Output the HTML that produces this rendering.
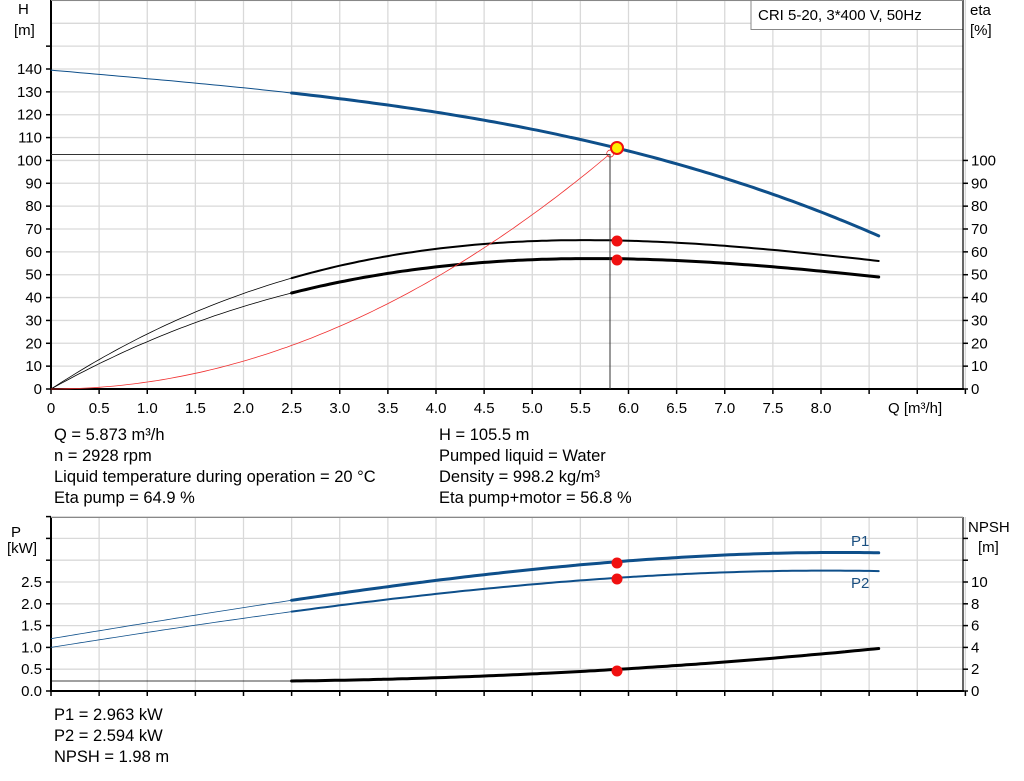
<!DOCTYPE html>
<html><head><meta charset="utf-8"><style>
html,body{margin:0;padding:0;background:#fff;}
svg{display:block;font-family:"Liberation Sans",Arial,sans-serif;}
</style></head><body>
<svg id="s" width="1024" height="781" viewBox="0 0 1024 781">
<g id="grid" stroke="#d9d9d9" stroke-width="1.3"></g>
<g font-size="15" fill="#000">
<text x="18" y="14">H</text><text x="14" y="35">[m]</text>
<text x="970" y="15">eta</text><text x="970" y="35">[%]</text>
<text x="11" y="537">P</text><text x="7" y="553">[kW]</text>
<text x="968" y="532">NPSH</text><text x="978" y="552">[m]</text>
<text x="888" y="413">Q [m³/h]</text>
<text x="851" y="546" fill="#1a4f80">P1</text>
<text x="851" y="588" fill="#1a4f80">P2</text>
</g>
<g font-size="16.5" fill="#000">
<text x="54" y="440">Q = 5.873 m³/h</text>
<text x="54" y="461">n = 2928 rpm</text>
<text x="54" y="482">Liquid temperature during operation = 20 °C</text>
<text x="54" y="503">Eta pump = 64.9 %</text>
<text x="439" y="440">H = 105.5 m</text>
<text x="439" y="461">Pumped liquid = Water</text>
<text x="439" y="482">Density = 998.2 kg/m³</text>
<text x="439" y="503">Eta pump+motor = 56.8 %</text>
<text x="54" y="720">P1 = 2.963 kW</text>
<text x="54" y="741">P2 = 2.594 kW</text>
<text x="54" y="762">NPSH = 1.98 m</text>
</g>
<rect x="751" y="0.5" width="212" height="29" fill="#fff" stroke="#888"/>
<text x="758" y="20" font-size="15">CRI 5-20, 3*400 V, 50Hz</text>
<g id="lbl" font-size="15"></g>
<g id="curves" fill="none"></g>
</svg>
<script>
var NS="http://www.w3.org/2000/svg";
function el(p,t,a,txt){var e=document.createElementNS(NS,t);for(var k in a)e.setAttribute(k,a[k]);if(txt!=null)e.textContent=txt;document.getElementById(p).appendChild(e);return e;}
function X(q){return 51+q*96.25;}
function Y(h){return 389-h*2.2857;}
function Yp(p){return 691-p*43.6;}
function Yn(n){return 691-n*10.9;}
for(var i=1;i<=19;i++){el('grid','line',{x1:X(i*0.5),y1:0,x2:X(i*0.5),y2:389});}
for(var h=10;h<=170;h+=10){el('grid','line',{x1:51,y1:Y(h),x2:963,y2:Y(h)});}
for(var i=1;i<=19;i++){el('grid','line',{x1:X(i*0.5),y1:517,x2:X(i*0.5),y2:691});}
for(var p=0.5;p<=4.01;p+=0.5){el('grid','line',{x1:51,y1:Yp(p),x2:963,y2:Yp(p)});}
var ax={stroke:'#000','stroke-width':2};
el('curves','line',Object.assign({x1:51,y1:0,x2:51,y2:390},ax));
el('curves','line',Object.assign({x1:50,y1:389,x2:964,y2:389},ax));
el('curves','line',Object.assign({x1:963,y1:0,x2:963,y2:390},{stroke:'#000','stroke-width':1.2}));
el('curves','line',{x1:51,y1:0.5,x2:963,y2:0.5,stroke:'#888','stroke-width':1});
el('curves','line',Object.assign({x1:51,y1:517,x2:51,y2:692},ax));
el('curves','line',Object.assign({x1:50,y1:691,x2:964,y2:691},ax));
el('curves','line',Object.assign({x1:963,y1:517,x2:963,y2:692},{stroke:'#000','stroke-width':1.2}));
el('curves','line',{x1:51,y1:517.5,x2:963,y2:517.5,stroke:'#888','stroke-width':1});
for(var i=0;i<=19;i++){var x=X(i*0.5);el('curves','line',{x1:x,y1:389,x2:x,y2:394,stroke:'#000','stroke-width':1.5});
 if(i<=16){var t=(i==0)?'0':(i*0.5).toFixed(1);el('lbl','text',{x:x,y:413,'text-anchor':'middle'},t);}
 el('curves','line',{x1:x,y1:691,x2:x,y2:696,stroke:'#000','stroke-width':1.5});}
for(var h=0;h<=150;h+=10){el('curves','line',{x1:46,y1:Y(h),x2:51,y2:Y(h),stroke:'#000','stroke-width':1.5});
 if(h<=140)el('lbl','text',{x:42,y:Y(h)+5,'text-anchor':'end'},''+h);}
for(var h=0;h<=100;h+=10){el('curves','line',{x1:963,y1:Y(h),x2:968,y2:Y(h),stroke:'#000','stroke-width':1.5});
 el('lbl','text',{x:971,y:Y(h)+5},''+h);}
for(var k=0;k<=8;k++){var p=k*0.5;el('curves','line',{x1:46,y1:Yp(p),x2:51,y2:Yp(p),stroke:'#000','stroke-width':1.5});
 if(k<=5)el('lbl','text',{x:42,y:Yp(p)+5,'text-anchor':'end'},p.toFixed(1));}
for(var n=0;n<=14;n+=2){el('curves','line',{x1:963,y1:Yn(n),x2:968,y2:Yn(n),stroke:'#000','stroke-width':1.5});
 if(n<=10)el('lbl','text',{x:971,y:Yn(n)+5},''+n);}
function lag(pts){return function(q){var s=0;for(var i=0;i<pts.length;i++){var l=pts[i][1];for(var j=0;j<pts.length;j++)if(j!=i)l*=(q-pts[j][0])/(pts[i][0]-pts[j][0]);s+=l;}return s;};}
function path(f,yf,a,b,col,w){var d='';for(var q=a;q<=b+1e-9;q+=0.05){d+=(d?'L':'M')+X(q).toFixed(1)+' '+yf(f(q)).toFixed(1);}el('curves','path',{d:d,stroke:col,'stroke-width':w,'stroke-linecap':'round'});}
var B='#0e4f8a';
var H=lag([[0,139.5],[2.5,129.5],[5.87,105.5],[8.6,67]]);
path(H,Y,0,2.5,B,1);path(H,Y,2.5,8.6,B,3);
var E1=lag([[0,0],[2.5,48.5],[5.87,65],[8.6,56]]);
path(E1,Y,0,2.5,'#000',0.8);path(E1,Y,2.5,8.6,'#000',2);
var E2=lag([[0,0],[2.5,42],[5.87,57],[8.6,49]]);
path(E2,Y,0,2.5,'#000',0.8);path(E2,Y,2.5,8.6,'#000',3);
path(function(q){return 3.05*q*q;},Y,0,5.8,'#f03030',0.8);
el('curves','circle',{cx:X(5.81),cy:Y(103),r:3.5,stroke:'#f03030','stroke-width':0.8,fill:'none'});
el('curves','polyline',{points:'51,154.5 610,154.5 610,389',stroke:'#333','stroke-width':1});
var P1=lag([[0,1.2],[2.5,2.08],[5.87,2.963],[8.6,3.17]]);
path(P1,Yp,0,2.5,B,0.8);path(P1,Yp,2.5,8.6,B,3);
var P2=lag([[0,1.0],[2.5,1.82],[5.87,2.594],[8.6,2.75]]);
path(P2,Yp,0,2.5,B,0.8);path(P2,Yp,2.5,8.6,B,2);
el('curves','line',{x1:51,y1:681,x2:X(2.5),y2:681,stroke:'#000','stroke-width':0.8});
var N=lag([[2.5,0.92],[5.87,1.98],[8.6,3.9]]);
path(N,Yn,2.5,8.6,'#000',3);
function dot(x,y){el('curves','circle',{cx:x,cy:y,r:5.5,fill:'#f01010'});}
dot(617,241);dot(617,260);dot(617,563);dot(617,579);dot(617,671);
el('curves','circle',{cx:617,cy:148,r:6,fill:'#ffee00',stroke:'#f01010','stroke-width':2});
</script>
</body></html>
